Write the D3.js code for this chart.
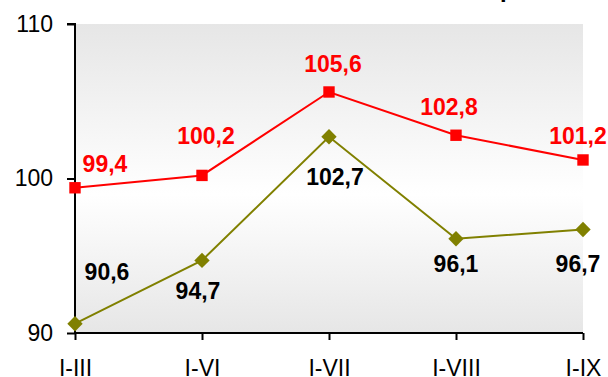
<!DOCTYPE html>
<html><head><meta charset="utf-8">
<script src="https://cdn.jsdelivr.net/npm/d3@7"></script>
<style>html,body{margin:0;padding:0;background:#fff;}svg{display:block;font-family:"Liberation Sans",Arial,sans-serif;}</style>
</head><body>
<svg id="c" width="608" height="377"></svg>
<script>
const categories = ["I-III", "I-VI", "I-VII", "I-VIII", "I-IX"];
const seriesRed = [99.4, 100.2, 105.6, 102.8, 101.2];
const seriesOlive = [90.6, 94.7, 102.7, 96.1, 96.7];
const redLabels = ["99,4", "100,2", "105,6", "102,8", "101,2"];
const oliveLabels = ["90,6", "94,7", "102,7", "96,1", "96,7"];
const yTicks = [90, 100, 110];
// label offsets (pixels) relative to each point
const redOff = [[30, -16], [4, -31], [4, -20], [-7, -20], [-5, -16]];
const oliveOff = [[32, -44], [-4, 39], [6, 48], [0, 33], [-5, 43]];

const svg = d3.select("#c");
const L = 75, R = 583, T = 24, B = 333;
const x = d3.scalePoint().domain(categories).range([L, R]);
const y = d3.scaleLinear().domain([90, 110]).range([B, T]);

const defs = svg.append("defs");
const g = defs.append("linearGradient").attr("id", "bg").attr("x1", 0).attr("y1", 0).attr("x2", 0).attr("y2", 1);
g.append("stop").attr("offset", "0%").attr("stop-color", "#e6e6e6");
g.append("stop").attr("offset", "55%").attr("stop-color", "#ffffff");
g.append("stop").attr("offset", "100%").attr("stop-color", "#e6e6e6");
svg.append("rect").attr("x", L).attr("y", T).attr("width", R - L).attr("height", B - T).attr("fill", "url(#bg)");

// title fragment (cut off at top)
svg.append("text").attr("x", 500).attr("y", -3).attr("font-size", 24).attr("font-weight", "bold").attr("fill", "#000").text("р");

// axes
const yAxis = svg.append("g").attr("transform", `translate(${L},0)`)
  .call(d3.axisLeft(y).tickValues(yTicks).tickSize(8).tickPadding(14).tickFormat(d3.format("d")));
yAxis.selectAll("text").attr("font-size", 23).attr("fill", "#000").attr("font-family", "Liberation Sans, Arial, sans-serif");
yAxis.selectAll("line,path").attr("stroke", "#000").attr("stroke-width", 2);
yAxis.select("path").attr("d", `M-8,${T}H0V${B}`);

const xAxis = svg.append("g").attr("transform", `translate(0,${B})`)
  .call(d3.axisBottom(x).tickSize(7).tickPadding(20));
xAxis.selectAll("text").attr("font-size", 23).attr("fill", "#000").attr("font-family", "Liberation Sans, Arial, sans-serif");
xAxis.selectAll("line,path").attr("stroke", "#000").attr("stroke-width", 2);
xAxis.select("path").attr("d", `M${L},0H${R}`);

function drawSeries(vals, color, shape, labels, off, lblColor) {
  const line = d3.line().x((d, i) => x(categories[i])).y(d => y(d));
  svg.append("path").datum(vals).attr("d", line).attr("fill", "none").attr("stroke", color).attr("stroke-width", 2);
  svg.selectAll(null).data(vals).enter().append("path")
    .attr("transform", (d, i) => `translate(${x(categories[i])},${y(d)})`)
    .attr("d", d3.symbol().type(shape).size(shape === d3.symbolSquare ? 130 : 150)())
    .attr("fill", color);
  svg.selectAll(null).data(vals).enter().append("text")
    .attr("x", (d, i) => x(categories[i]) + off[i][0])
    .attr("y", (d, i) => y(d) + off[i][1])
    .attr("text-anchor", "middle").attr("font-size", 23).attr("font-weight", "bold")
    .attr("fill", lblColor).text((d, i) => labels[i]);
}
drawSeries(seriesOlive, "#808000", d3.symbolDiamond2 || d3.symbolDiamond, oliveLabels, oliveOff, "#000");
drawSeries(seriesRed, "#ff0000", d3.symbolSquare, redLabels, redOff, "#ff0000");
</script>
</body></html>
